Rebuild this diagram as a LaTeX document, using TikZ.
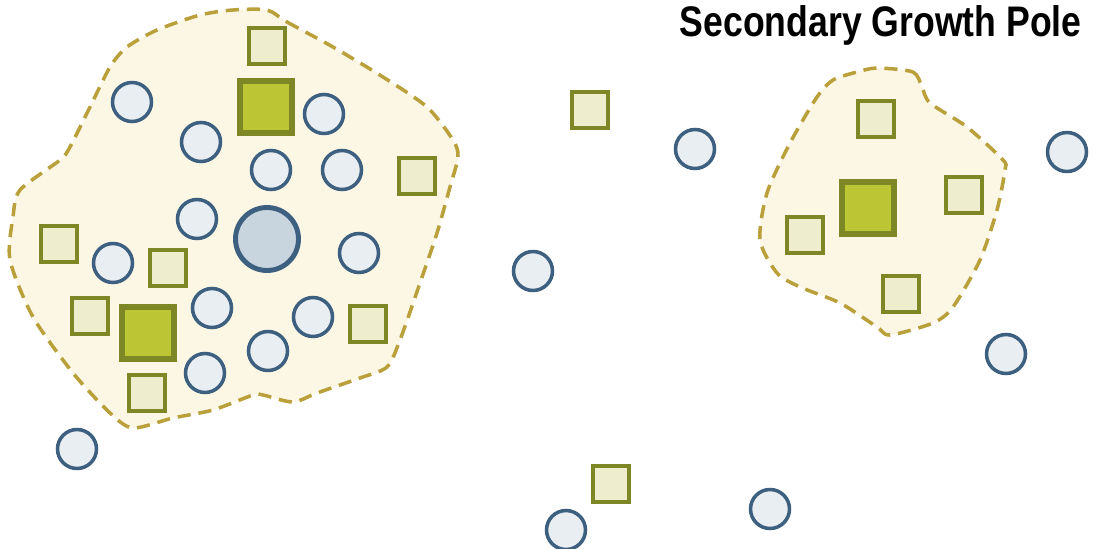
\documentclass[tikz,border=0pt]{standalone}
\usepackage{fontspec}
\setmainfont{Liberation Sans}
\definecolor{zonefill}{HTML}{FCF6E4}
\definecolor{zoneline}{HTML}{B9A03A}
\definecolor{firmfill}{HTML}{EEEECE}
\definecolor{firmline}{HTML}{7E8726}
\definecolor{leadfill}{HTML}{BCC634}
\definecolor{hhfill}{HTML}{E9EEF2}
\definecolor{hhline}{HTML}{3D5F80}
\definecolor{corefill}{HTML}{C9D5DE}
\begin{document}
\begin{tikzpicture}[x=0.02cm, y=-0.02cm,
        zone/.style={draw=zoneline, fill=zonefill, line width=2pt, dash pattern=on 7.5pt off 4.5pt},
        firm/.style={draw=firmline, fill=firmfill, line width=2.4pt, minimum size=0.72cm, inner sep=0pt},
        leadfirm/.style={draw=firmline, fill=leadfill, line width=3.4pt, minimum size=1.04cm, inner sep=0pt},
        house/.style={circle, draw=hhline, fill=hhfill, line width=2pt, minimum size=0.78cm, inner sep=0pt},
        core/.style={circle, draw=hhline, fill=corefill, line width=2.8pt, minimum size=1.26cm, inner sep=0pt},
        title/.style={font=\bfseries, inner sep=0pt, anchor=north east},
    ]
        \useasboundingbox (0,0) rectangle (1095,548);

        % main growth pole
        \draw[zone] plot[smooth cycle, tension=0.45] coordinates {
            (267,10) (287,22) (333,47) (383,77) (427,107) (453,140) (458,157)
            (450,187) (437,233) (420,283) (400,340) (387,367) (360,378)
            (317,393) (293,402) (263,395) (253,395) (213,410) (173,418)
            (133,428) (110,413) (73,373) (33,317) (10,260) (13,217) (20,190)
            (60,160) (70,147) (90,107) (110,67) (127,47) (157,30) (200,15) (233,10)};

        % secondary growth pole
        \draw[zone] plot[smooth cycle, tension=0.45] coordinates {
            (877,68) (913,72) (922,87) (930,103) (967,127) (1003,160) (1005,170)
            (997,210) (980,260) (953,307) (933,323) (890,335) (877,327)
            (840,303) (800,287) (777,273) (760,240) (767,193) (790,143)
            (817,97) (833,80) (857,72)};

        \node[title] (caption) at (1082,5) {\resizebox{8.04cm}{0.62cm}{Secondary Growth Pole}};

        % firms, main pole
        \node[leadfirm] (leadA) at (266,107) {};
        \node[leadfirm] (leadB) at (148,333) {};
        \node[firm] (firmA1) at (267,46) {};
        \node[firm] (firmA2) at (417,176) {};
        \node[firm] (firmA3) at (59,244) {};
        \node[firm] (firmA4) at (168,268) {};
        \node[firm] (firmA5) at (90,316) {};
        \node[firm] (firmA6) at (368,324) {};
        \node[firm] (firmA7) at (147,393) {};

        % households, main pole
        \node[core] (centre) at (267,239) {};
        \node[house] (hhA1) at (132,102) {};
        \node[house] (hhA2) at (201,142) {};
        \node[house] (hhA3) at (324,114) {};
        \node[house] (hhA4) at (271,170) {};
        \node[house] (hhA5) at (342,170) {};
        \node[house] (hhA6) at (197,219) {};
        \node[house] (hhA7) at (359,253) {};
        \node[house] (hhA8) at (113,263) {};
        \node[house] (hhA9) at (212,308) {};
        \node[house] (hhA10) at (313,317) {};
        \node[house] (hhA11) at (268,351) {};
        \node[house] (hhA12) at (205,373) {};

        % firms, secondary pole
        \node[leadfirm] (leadC) at (868,208) {};
        \node[firm] (firmB1) at (876,119) {};
        \node[firm] (firmB2) at (964,195) {};
        \node[firm] (firmB3) at (805,235) {};
        \node[firm] (firmB4) at (901,294) {};

        % scattered
        \node[firm] (firmC1) at (590,110) {};
        \node[firm] (firmC2) at (611,484) {};
        \node[house] (hhC1) at (77,449) {};
        \node[house] (hhC2) at (533,271) {};
        \node[house] (hhC3) at (695,149) {};
        \node[house] (hhC4) at (1067,152) {};
        \node[house] (hhC5) at (1006,354) {};
        \node[house] (hhC6) at (770,509) {};
        \node[house] (hhC7) at (566,530) {};
    \end{tikzpicture}
\end{document}
